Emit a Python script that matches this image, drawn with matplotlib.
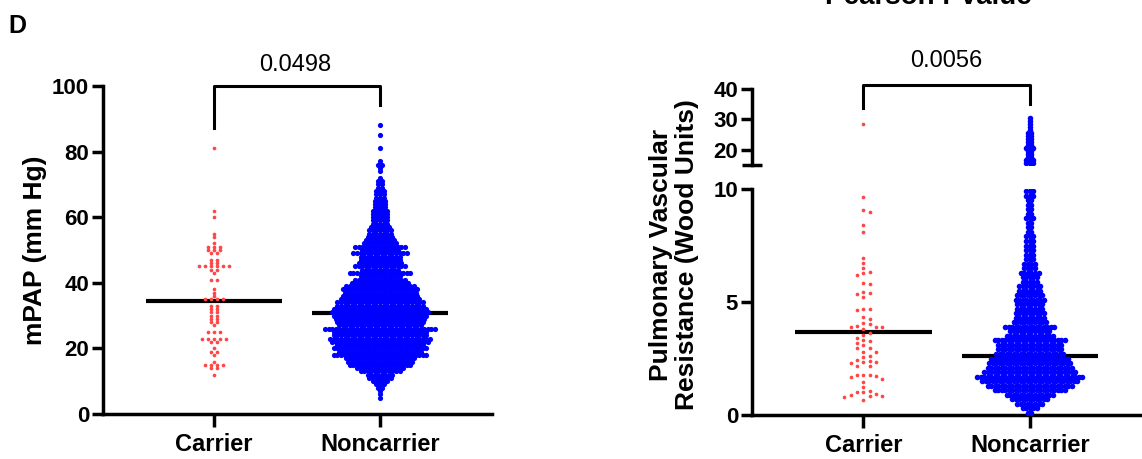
import numpy as np
import matplotlib
matplotlib.use('Agg')
import matplotlib.pyplot as plt

plt.rcParams['font.family'] = ['Liberation Sans', 'DejaVu Sans']
plt.rcParams['font.weight'] = 'bold'

groups = ['Carrier', 'Noncarrier']
red = '#ff4545'
blue = '#0000ff'

# --- mPAP (mm Hg) ---
# carriers: value -> number of patients at that value
mpap_car_vals = [81, 62, 60, 55, 54, 52, 51, 50, 49, 47, 46, 45, 44, 43, 41, 38, 37, 36, 35,
                 33, 32, 31, 30, 29, 28, 27, 25, 23, 22, 20, 19, 18, 16, 15, 14, 12]
mpap_car_counts = [1, 1, 1, 1, 1, 1, 3, 3, 2, 2, 2, 6, 2, 1, 2, 1, 1, 1, 4,
                   2, 2, 2, 2, 2, 2, 1, 3, 5, 2, 1, 2, 1, 1, 4, 2, 1]
# noncarriers: counts at every whole mm Hg from 5 to 88
mpap_non_vals = list(range(5, 89))
mpap_non_counts = [1, 1, 1, 2, 3, 5, 7, 8, 12, 14, 18, 19, 20, 27, 24, 27, 25, 28, 29, 27,
                   27, 32, 24, 25, 26, 27, 28, 27, 25, 25, 23, 22, 21, 22, 20, 17, 15, 12, 18, 11,
                   15, 13, 12, 12, 16, 11, 15, 10, 9, 8, 7, 7, 6, 5, 5, 5, 5, 5, 4, 4,
                   4, 3, 3, 3, 2, 2, 2, 1, 0, 1, 1, 2, 1, 0, 0, 0, 1, 0, 0, 0,
                   1, 0, 0, 1]
mpap_lines = [34.5, 30.7]
mpap_p = '0.0498'

# --- PVR (Wood units) ---
pvr_car = [28.5, 9.63, 9.08, 8.97, 8.42, 8.11, 6.96, 6.74, 6.52, 6.34, 6.27, 6.19, 5.84, 5.78,
           5.43, 5.40, 5.37, 5.21, 4.70, 4.68, 4.65, 4.35, 4.25, 4.06, 4.03, 3.94, 3.91, 3.91,
           3.91, 3.79, 3.61, 3.54, 3.42, 3.32, 3.26, 3.20, 3.10, 2.95, 2.95, 2.77, 2.77, 2.62,
           2.55, 2.42, 2.40, 2.33, 2.33, 2.29, 2.18, 2.17, 1.76, 1.76, 1.76, 1.73, 1.70, 1.59,
           1.47, 1.25, 1.06, 1.02, 1.02, 0.93, 0.88, 0.84, 0.83, 0.81, 0.65]
# noncarriers: counts in 0.2 WU bins (0.1 ... 9.9) and 1 WU bins above the break
pvr_non_vals = [round(0.1 + 0.2 * i, 1) for i in range(50)]
pvr_non_counts = [2, 5, 8, 11, 14, 21, 25, 28, 31, 27, 25, 24, 23, 20, 19, 19, 21, 14, 12, 15,
                  10, 9, 9, 8, 8, 9, 8, 7, 7, 5, 5, 6, 4, 4, 3, 3, 3, 3, 3, 3,
                  2, 2, 2, 3, 2, 2, 2, 2, 3, 3]
pvr_non_hi_vals = [15.5, 16.5, 17.5, 18.5, 19.5, 20.5, 21.5, 22.5, 23.5, 24.5, 25.5, 26.5,
                   27.5, 28.5, 29.5, 30.3]
pvr_non_hi_counts = [3, 3, 2, 2, 2, 3, 2, 2, 2, 2, 2, 1, 1, 1, 1, 1]
pvr_lines = [3.66, 2.61]
pvr_p = '0.0056'

W, H = 1142, 459
unit_px = 166.0   # pixels between the two groups


def rows(vals, counts, dx, x0):
    xs, ys = [], []
    for v, n in zip(vals, counts):
        off = (np.arange(n) - (n - 1) / 2) * dx
        xs.extend(x0 + off)
        ys.extend([v] * n)
    return np.array(xs), np.array(ys)


def swarm(vals, ypx, step_px, gap_px, x0):
    # simple beeswarm on a column grid, in pixel space
    placed = []
    xs = []
    cands = [0] + [s * j for j in range(1, 12) for s in (1, -1)]
    for v in vals:
        y = v * ypx
        for c in cands:
            x = c * step_px
            if all((x - px) ** 2 + (y - py) ** 2 >= gap_px ** 2 for px, py in placed):
                break
        placed.append((x, y))
        xs.append(x0 + x / unit_px)
    return np.array(xs)


def style(ax, bottom=True):
    for s in ['top', 'right']:
        ax.spines[s].set_visible(False)
    for s in ['left', 'bottom']:
        ax.spines[s].set_linewidth(2.5)
    if not bottom:
        ax.spines['bottom'].set_visible(False)
        ax.set_xticks([])
    ax.tick_params(axis='y', length=8, width=2.5, labelsize=16, pad=2)
    ax.tick_params(axis='x', length=9.5, width=2.5, labelsize=17, pad=4)
    ax.set_xlim(-0.67, 1.675)


fig = plt.figure(figsize=(W / 100, H / 100), dpi=100)

# ---------------- left panel: mPAP ----------------
ax1 = fig.add_axes([103 / W, 1 - 414 / H, 389 / W, 328 / H])
style(ax1)
ax1.set_ylim(0, 100)
ax1.set_yticks([0, 20, 40, 60, 80, 100])
ax1.set_xticks([0, 1], groups)

x, y = rows(mpap_car_vals, mpap_car_counts, 6.0 / unit_px, 0)
ax1.scatter(x, y, s=7, color=red, linewidths=0, zorder=3)
x, y = rows(mpap_non_vals, mpap_non_counts, 3.55 / unit_px, 1)
ax1.scatter(x, y, s=14, color=blue, linewidths=0, zorder=3)
for i, m in enumerate(mpap_lines):
    ax1.plot([i - 0.41, i + 0.41], [m, m], color='black', lw=3, zorder=2, solid_capstyle='butt')

ax1.plot([0, 0, 1, 1], [87.2, 100, 100, 94.2], color='black', lw=2.2, clip_on=False)
ax1.text(0.49, 104.6, mpap_p, ha='center', va='baseline', fontsize=17, fontweight='normal')
fig.text(35 / W, 1 - 250 / H, 'mPAP (mm Hg)', rotation=90, ha='center', va='center', fontsize=19)

# ---------------- right panel: PVR (broken axis) ----------------
ax2 = fig.add_axes([752 / W, 1 - 415 / H, 390 / W, 226 / H])
ax3 = fig.add_axes([752 / W, 1 - 165 / H, 390 / W, 76 / H])
style(ax2)
style(ax3, bottom=False)
ax2.set_ylim(0, 10)
ax2.set_yticks([0, 5, 10])
ax2.set_yticks([10], minor=True)
ax2.tick_params(axis='y', which='minor', direction='in', length=7, width=2.5)
ax2.set_xticks([0, 1], groups)
ax3.set_ylim(15, 40)
ax3.set_yticks([20, 30, 40])
ax3.set_yticks([15], minor=True)
ax3.tick_params(axis='y', which='minor', direction='inout', length=15, width=2.5)

car = np.array(pvr_car)
lo = car[car <= 10]
hi = car[car > 10]
ax2.scatter(swarm(lo, 22.6, 6.3, 4.8, 0), lo, s=7, color=red, linewidths=0, zorder=3)
ax3.scatter(swarm(hi, 3.04, 6.3, 4.8, 0), hi, s=7, color=red, linewidths=0, zorder=3)

x, y = rows(pvr_non_vals, pvr_non_counts, 3.5 / unit_px, 1)
ax2.scatter(x, y, s=16, color=blue, linewidths=0, zorder=3)
x, y = rows(pvr_non_hi_vals, pvr_non_hi_counts, 3.5 / unit_px, 1)
ax3.scatter(x, y, s=16, color=blue, linewidths=0, zorder=3)
for i, m in enumerate(pvr_lines):
    ax2.plot([i - 0.41, i + 0.41], [m, m], color='black', lw=3, zorder=2, solid_capstyle='butt')

ax3.plot([0, 0, 1, 1], [33.75, 41.3, 41.3, 35.1], color='black', lw=2.2, clip_on=False)
ax3.text(0.5, 47.1, pvr_p, ha='center', va='baseline', fontsize=17, fontweight='normal')
fig.text(674 / W, 1 - 255 / H, 'Pulmonary Vascular\nResistance (Wood Units)', rotation=90,
         ha='center', va='center', fontsize=19, multialignment='center', linespacing=1.15)

# panel letter and the heading above, cut by the top edge as in the source figure
fig.text(8 / W, 1 - 33 / H, 'D', fontsize=18, va='baseline')
fig.text(928 / W, 1 - 4 / H, 'Pearson r value', fontsize=20, ha='center', va='baseline')

fig.savefig('out.png', dpi=100)
